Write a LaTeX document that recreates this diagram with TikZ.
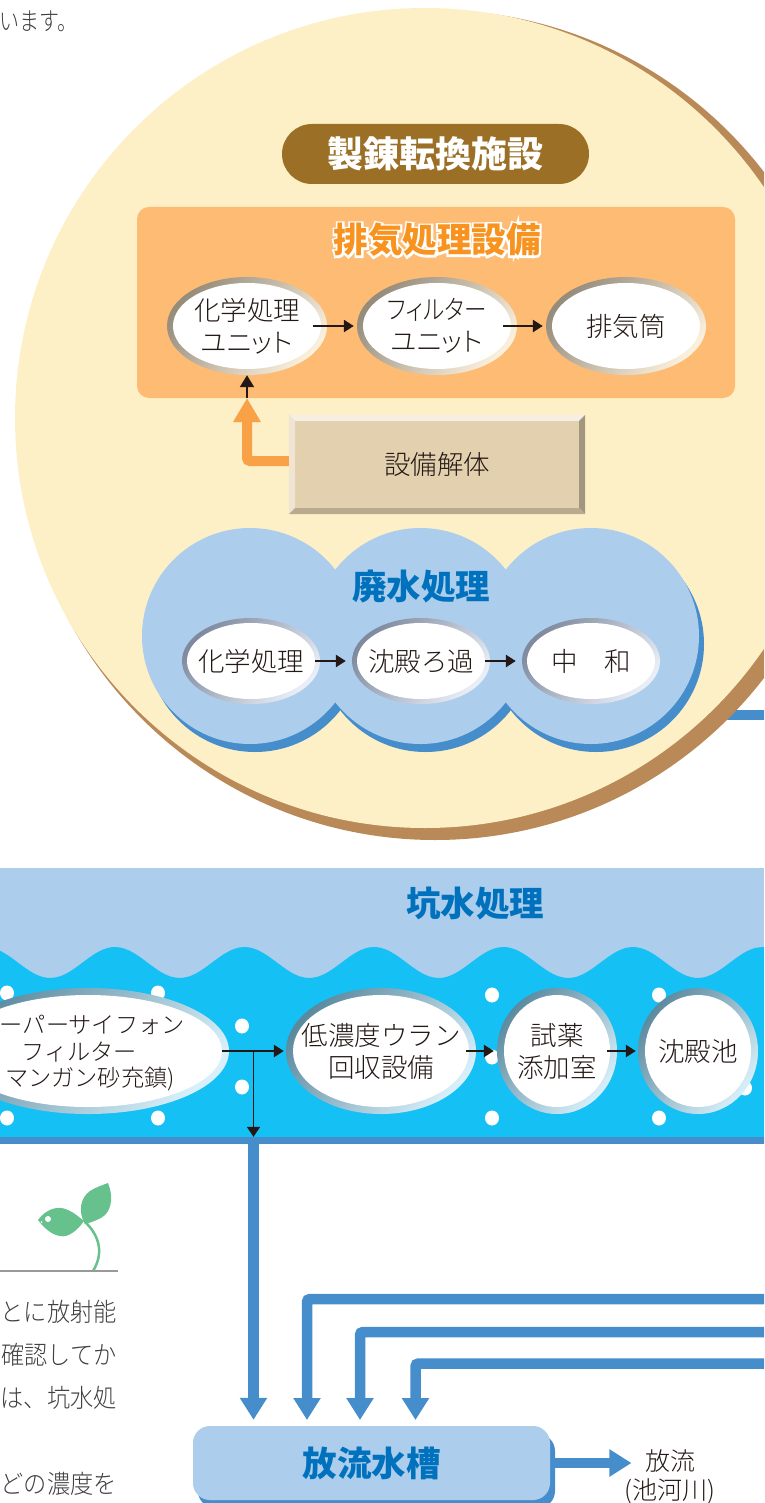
\documentclass[tikz,border=0pt]{standalone}
\usepackage{fontspec}
\setmainfont{Noto Sans CJK JP Light}
\newfontfamily\headfont{Noto Sans CJK JP Black}
\newfontfamily\halofont[FakeBold=12]{Noto Sans CJK JP Black}
\newfontfamily\kanafont[RawFeature=+palt]{Noto Sans CJK JP Light}
\newfontfamily\narrowkana[RawFeature=+palt,FakeStretch=0.85]{Noto Sans CJK JP Light}
\newfontfamily\notefont[FakeStretch=0.91]{Noto Sans CJK JP Light}
\newfontfamily\edgefont[FakeStretch=0.8]{Noto Sans CJK JP Light}
\usetikzlibrary{positioning, shapes, arrows.meta}

\definecolor{cream}{HTML}{FDEFC6}
\definecolor{brownrim}{HTML}{B98A58}
\definecolor{pillbrown}{HTML}{9B6F26}
\definecolor{peach}{HTML}{FDBB74}
\definecolor{orangeink}{HTML}{F7931E}
\definecolor{orangepipe}{HTML}{F9A146}
\definecolor{skypale}{HTML}{ADCDEC}
\definecolor{pipeblue}{HTML}{468DCB}
\definecolor{inkblue}{HTML}{0071BC}
\definecolor{cyanwater}{HTML}{14C0F4}
\definecolor{leafgreen}{HTML}{66C18C}
\definecolor{inkdark}{HTML}{231815}
\definecolor{boxface}{HTML}{E3D0AF}
\definecolor{tandark}{HTML}{968C7C}
\definecolor{tanlight}{HTML}{FBF0DC}
\definecolor{greydark}{HTML}{7F8A9F}
\definecolor{greylight}{HTML}{EAEFF7}
\definecolor{tealdark}{HTML}{5B8A9F}
\definecolor{teallight}{HTML}{D8F0FB}

\newcommand{\kanaline}[1]{{\kanafont\fontsize{26.5}{32}\selectfont #1}}
\newcommand{\filterline}[1]{{\narrowkana\fontsize{26.5}{32}\selectfont #1}}

\tikzset{
    body/.style={font=\fontsize{26.5}{32}\selectfont, text=inkdark, align=center},
    ringbase/.style n args={2}{ellipse, inner sep=-15pt, body, path picture={
        \fill[white] (path picture bounding box.center) ellipse [x radius=#1, y radius=#2];}},
    ringtan/.style={top color=tandark, bottom color=tanlight, shading angle=50},
    ringgrey/.style={top color=greydark, bottom color=greylight, shading angle=50},
    ringteal/.style={top color=tealdark, bottom color=teallight, shading angle=50},
    head/.style={font=\headfont\fontsize{34.5}{36}\selectfont, text=inkblue},
    smallarrow/.style={draw=inkdark, line width=2.5pt, -{Triangle[width=12pt,length=10pt]}},
    uparrow/.style={draw=inkdark, line width=2pt, -{Triangle[width=14pt,length=12pt]}},
    bigpipe/.style={draw=pipeblue, line width=10.5pt, rounded corners=3pt, -{Triangle[width=26pt,length=22pt]}},
    dot/.style={fill=white, ellipse, minimum width=14pt, minimum height=15pt, inner sep=0pt},
    sidetext/.style={font=\notefont\fontsize{25.5}{30}\selectfont, text=black!75, anchor=east, inner sep=0pt},
    siphonline/.style={font=\fontsize{23.2}{27}\selectfont, text=inkdark, anchor=east, inner sep=0pt}
}

\begin{document}
\begin{tikzpicture}[x=1pt,y=-1pt]
    \useasboundingbox (0,0) rectangle (764,1503);
    \clip (0,0) rectangle (764,1503);

    \node[sidetext, font=\edgefont\fontsize{25}{30}\selectfont] (topnote) at (78,21) {います。};

    \coordinate (stubin) at (700,715);
    \coordinate (stubout) at (770,715);
    \draw[draw=pipeblue, line width=10.5pt] (stubin) -- (stubout);
    \fill[brownrim] (435,425) circle [radius=415pt];
    \fill[cream] (425,418) circle [radius=410pt];

    \node[fill=pillbrown, rounded corners=30pt, minimum width=307pt, minimum height=60pt, text=white, font=\headfont\fontsize{36}{38}\selectfont] (plant) at (435.5,154) {製錬転換施設};

    \node[fill=peach, rounded corners=12pt, minimum width=598pt, minimum height=191pt] (exhaust) at (436,302.5) {};
    \node[text=white, font=\halofont\fontsize{34.5}{36}\selectfont] (exhausthalo) at (437,240) {排気処理設備};
    \node[text=orangeink, font=\headfont\fontsize{34.5}{36}\selectfont] (exhausttitle) at (437,240) {排気処理設備};

    \node[ringbase={74pt}{43pt}, ringtan, minimum width=160pt, minimum height=98pt] (chemunit) at (247,326) {化学処理\\\kanaline{ユニット}};
    \node[ringbase={74pt}{43pt}, ringtan, minimum width=160pt, minimum height=98pt] (filterunit) at (437,326) {\filterline{フィルター}\\\kanaline{ユニット}};
    \node[ringbase={74pt}{43pt}, ringtan, minimum width=160pt, minimum height=98pt] (stack) at (626,326) {排気筒};
    \draw[smallarrow] ([xshift=-14pt]chemunit.east) -- ([xshift=-3pt]filterunit.west);
    \draw[smallarrow] ([xshift=-14pt]filterunit.east) -- ([xshift=-3pt]stack.west);

    \node[fill=boxface, minimum width=296pt, minimum height=99pt, body] (dismantle) at (437,464.5) {設備解体};
    \fill[white!65!boxface] (dismantle.north west) -- (dismantle.north east) -- ([shift={(-6pt,-6pt)}]dismantle.north east) -- ([shift={(6pt,-6pt)}]dismantle.north west) -- cycle;
    \fill[white!45!boxface] (dismantle.north west) -- (dismantle.south west) -- ([shift={(6pt,6pt)}]dismantle.south west) -- ([shift={(6pt,-6pt)}]dismantle.north west) -- cycle;
    \fill[black!28!boxface] (dismantle.north east) -- (dismantle.south east) -- ([shift={(-6pt,6pt)}]dismantle.south east) -- ([shift={(-6pt,-6pt)}]dismantle.north east) -- cycle;
    \fill[black!18!boxface] (dismantle.south west) -- (dismantle.south east) -- ([shift={(-6pt,6pt)}]dismantle.south east) -- ([shift={(6pt,6pt)}]dismantle.south west) -- cycle;
    \coordinate (feedup) at (247,398);
    \draw[draw=orangepipe, line width=10pt, rounded corners=3pt, -{Triangle[width=26pt,length=24pt]}] (dismantle.west |- 0,461) -| (feedup);
    \draw[uparrow] (feedup) -- (chemunit.south);

    \foreach \cx in {250,420.5,591} \fill[pipeblue] (\cx+5,644) circle [radius=108pt];
    \foreach \cx in {250,420.5,591} \fill[skypale] (\cx,636) circle [radius=108pt];
    \node[head] (wastetitle) at (421,587) {廃水処理};
    \node[ringbase={64pt}{38pt}, ringgrey, minimum width=138pt, minimum height=86pt] (chemwaste) at (251,661) {化学処理};
    \node[ringbase={64pt}{38pt}, ringgrey, minimum width=138pt, minimum height=86pt] (settle) at (421,661) {沈殿ろ過};
    \node[ringbase={64pt}{38pt}, ringgrey, minimum width=138pt, minimum height=86pt] (neutral) at (591,661) {中　和};
    \draw[smallarrow] ([xshift=-5pt]chemwaste.east) -- ([xshift=-6pt]settle.west);
    \draw[smallarrow] ([xshift=-5pt]settle.east) -- ([xshift=-6pt]neutral.west);

    \fill[skypale] (0,868) rectangle (764,985);
    \fill[cyanwater] (0,1137) -- (0,962) -- plot[smooth, domain=0:764, samples=90] (\x,{962.5-15.5*cos((\x-115)/129.5*360)}) -- (764,1137) -- cycle;
    \node[head] (minetitle) at (475,904) {坑水処理};
    \node[fill=pipeblue, minimum width=780pt, minimum height=7pt, inner sep=0pt] (minebar) at (382,1140.5) {};

    \foreach \dx/\dy/\dn in {7/993/a,158/993/b,242/1026/c,242/1087/d,7/1118/e,158/1118/f,492/995/g,492/1057/h,492/1118/i,659/995/j,659/1118/k,745/1088/l}
        \node[dot] (dot\dn) at (\dx,\dy) {};

    \node[ringbase={134pt}{56pt}, ringteal, minimum width=282pt, minimum height=126pt] (siphon) at (88,1051) {};
    \node[siphonline] (siphonone) at (185,1025) {ーパーサイフォン};
    \node[siphonline] (siphontwo) at (137,1052) {フィルター};
    \node[siphonline] (siphonthree) at (175,1079) {マンガン砂充鎮)};
    \node[ringbase={88pt}{56pt}, ringteal, minimum width=190pt, minimum height=126pt] (lowuran) at (381,1051) {低濃度ウラン\\回収設備};
    \node[ringbase={53pt}{56pt}, ringteal, minimum width=120pt, minimum height=126pt] (reagent) at (557,1051) {試薬\\添加室};
    \node[ringbase={53pt}{56pt}, ringteal, minimum width=120pt, minimum height=126pt] (settlepond) at (698,1051) {沈殿池};
    \coordinate (branch) at (253.5,1051);
    \draw[smallarrow] ([xshift=-7pt]siphon.east) -- ([xshift=-2pt]lowuran.west);
    \draw[draw=inkdark, line width=1.8pt, -{Triangle[width=13pt,length=10pt]}] (branch) -- (branch |- minebar.north);
    \draw[smallarrow] ([xshift=-10pt]lowuran.east) -- ([xshift=-3pt]reagent.west);
    \draw[smallarrow] ([xshift=-10pt]reagent.east) -- ([xshift=-2pt]settlepond.west);

    \fill[leafgreen] (38,1220) .. controls (46,1209) and (58,1205) .. (68,1210) .. controls (75,1213) and (80,1218) .. (84,1221) .. controls (78,1230) and (68,1238) .. (60,1236) .. controls (52,1235) and (44,1228) .. (38,1220) -- cycle;
    \fill[leafgreen] (85,1224) .. controls (78,1212) and (80,1198) .. (90,1191) .. controls (96,1187) and (103,1185) .. (108,1183) .. controls (113,1195) and (112,1208) .. (105,1215) .. controls (99,1220) and (92,1222) .. (85,1224) -- cycle;
    \draw[draw=leafgreen, line width=2.5pt] (85,1222) .. controls (96,1232) and (106,1250) .. (93,1271);
    \fill[white] (48,1219) circle [radius=3pt];
    \fill[white] (41.5,1222) circle [radius=1pt];
    \draw[draw=black!40, line width=1.5pt] (0,1271) -- (118,1271);

    \node[sidetext] (noteone) at (117,1312) {とに放射能};
    \node[sidetext] (notetwo) at (117,1355) {確認してか};
    \node[sidetext] (notethree) at (117,1398) {は、坑水処};
    \node[sidetext] (notefour) at (117,1484) {どの濃度を};

    \node[fill=pipeblue, rounded corners=17pt, minimum width=357pt, minimum height=74pt] (tankback) at (376.5,1471) {};
    \node[fill=skypale, rounded corners=17pt, minimum width=357pt, minimum height=74pt, head] (tank) at (371.5,1463) {放流水槽};
    \node[body, font=\fontsize{25}{29}\selectfont, inner sep=0pt] (release) at (670,1476.5) {放流\\(池河川)};

    \coordinate (barout) at (253.5,1141);
    \coordinate (lineone) at (770,1299);
    \coordinate (linetwo) at (770,1332);
    \coordinate (linethree) at (770,1363.5);
    \coordinate (inone) at (307,1426);
    \coordinate (intwo) at (360,1426);
    \coordinate (inthree) at (415.5,1426);
    \draw[bigpipe, shorten >=6pt] (barout) -- (barout |- tank.north);
    \draw[bigpipe, shorten >=6pt] (lineone) -| (inone);
    \draw[bigpipe, shorten >=6pt] (linetwo) -| (intwo);
    \draw[bigpipe, shorten >=6pt] (linethree) -| (inthree);
    \draw[bigpipe, shorten >=-7pt] (tankback.east |- tank.east) -- (release.west |- tank.east);
\end{tikzpicture}
\end{document}
